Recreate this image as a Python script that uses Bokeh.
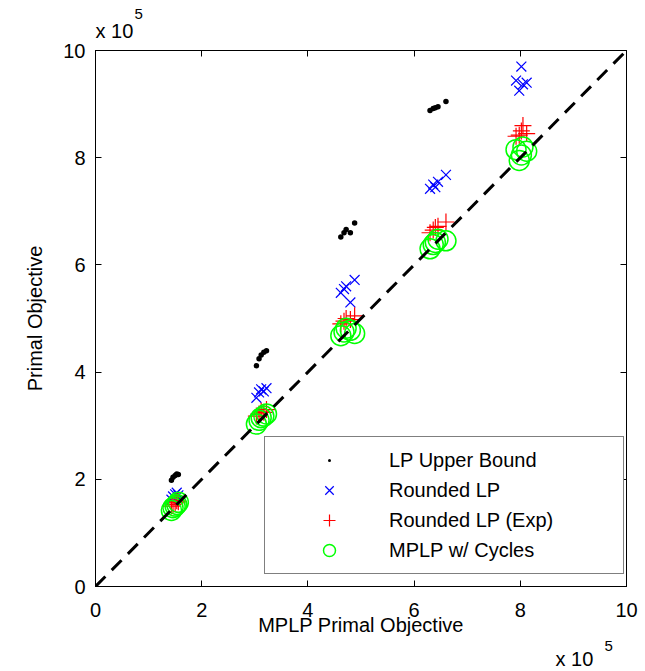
from bokeh.plotting import figure
from bokeh.models import LinearAxis, Legend, LegendItem, Range1d, FixedTicker, Title
from bokeh.embed import file_html
from bokeh.resources import INLINE

# Values in units of 1e5
ticks = [0, 2, 4, 6, 8, 10]

mplp_x = [1.43, 1.46, 1.50, 1.53, 1.56,
          3.03, 3.08, 3.12, 3.17, 3.22,
          4.62, 4.68, 4.72, 4.80, 4.88,
          6.30, 6.36, 6.40, 6.45, 6.60,
          7.92, 7.98, 8.02, 8.05, 8.12]

lp_upper_x = mplp_x[:20]
lp_upper = [1.98, 2.04, 2.07, 2.10, 2.09,
            4.12, 4.25, 4.32, 4.37, 4.40,
            6.52, 6.60, 6.66, 6.60, 6.78,
            8.88, 8.92, 8.93, 8.95, 9.05]

rounded_lp = [1.62, 1.68, 1.72, 1.75, 1.70,
              3.52, 3.62, 3.68, 3.64, 3.70,
              5.48, 5.55, 5.60, 5.30, 5.72,
              7.42, 7.50, 7.45, 7.55, 7.68,
              9.44, 9.25, 9.70, 9.37, 9.40]

rounded_lp_exp = [1.50, 1.53, 1.56, 1.60, 1.58,
                  3.18, 3.22, 3.27, 3.25, 3.30,
                  4.90, 4.95, 5.00, 4.98, 5.05,
                  6.60, 6.65, 6.70, 6.72, 6.80,
                  8.40, 8.42, 8.50, 8.60, 8.45]

mplp_cycles = [1.42, 1.47, 1.50, 1.53, 1.57,
               3.03, 3.10, 3.15, 3.18, 3.22,
               4.68, 4.75, 4.82, 4.78, 4.72,
               6.30, 6.38, 6.42, 6.48, 6.45,
               8.15, 7.95, 8.05, 8.20, 8.12]

diag = [0, 10]

FONT = "Liberation Sans"

p = figure(width=645, height=671, x_range=Range1d(0, 10), y_range=Range1d(0, 10),
           output_backend="svg", toolbar_location=None, title=None,
           min_border_left=95, min_border_right=19, min_border_top=50, min_border_bottom=85)
p.grid.visible = False
p.outline_line_color = "black"
p.background_fill_color = "white"
p.border_fill_color = "white"

for ax in [p.xaxis[0], p.yaxis[0]]:
    ax.ticker = FixedTicker(ticks=ticks)
    ax.major_tick_in = 6
    ax.major_tick_out = 0
    ax.minor_tick_line_color = None
    ax.axis_line_color = "black"
    ax.major_tick_line_color = "black"
    ax.major_label_text_font = FONT
    ax.major_label_text_font_size = "20px"
    ax.major_label_text_color = "black"
    ax.axis_label_text_font = FONT
    ax.axis_label_text_font_size = "20px"
    ax.axis_label_text_font_style = "normal"
    ax.axis_label_text_color = "black"

p.xaxis[0].axis_label = "MPLP Primal Objective"
p.yaxis[0].axis_label = "Primal Objective"
p.xaxis[0].major_label_standoff = 16
p.yaxis[0].major_label_standoff = 10
p.xaxis[0].axis_label_standoff = -6
p.yaxis[0].axis_label_standoff = 14

for side in ["above", "right"]:
    ax = LinearAxis(ticker=FixedTicker(ticks=ticks), major_tick_in=6, major_tick_out=0,
                    minor_tick_line_color=None, major_label_text_font_size="0px",
                    major_label_standoff=0, axis_line_color="black",
                    major_label_overrides={t: "" for t in ticks})
    p.add_layout(ax, side)

r1 = p.scatter(lp_upper_x, lp_upper, marker="dot", size=22, color="black")
r2 = p.scatter(mplp_x, rounded_lp, marker="x", size=14, line_color="#0000ff", line_width=1.2)
r3 = p.scatter(mplp_x, rounded_lp_exp, marker="cross", size=17, line_color="#ff0000", line_width=1.2)
r4 = p.scatter(mplp_x, mplp_cycles, marker="circle", size=20, line_color="#00ff00",
               fill_color=None, line_width=1.5)
p.line(diag, diag, line_color="black", line_width=3, line_dash="14 9")

legend = Legend(items=[LegendItem(label="LP Upper Bound", renderers=[r1]),
                       LegendItem(label="Rounded LP", renderers=[r2]),
                       LegendItem(label="Rounded LP (Exp)", renderers=[r3]),
                       LegendItem(label="MPLP w/ Cycles", renderers=[r4])],
                location=(169, 12))
legend.label_text_font = FONT
legend.label_text_font_size = "20px"
legend.label_text_color = "black"
legend.label_height = 30
legend.glyph_height = 30
legend.glyph_width = 112
legend.padding = 8
legend.spacing = 0
legend.margin = 0
legend.label_standoff = 4
legend.label_width = 226
legend.border_line_color = "black"
legend.border_line_width = 1
legend.background_fill_color = "white"
legend.background_fill_alpha = 1
p.add_layout(legend)

def add_title(text, size, offset, standoff, side):
    p.add_layout(Title(text=text, text_font=FONT, text_font_size=size,
                       text_font_style="normal", text_color="black",
                       align="left", offset=offset, standoff=standoff), side)

# top multiplier: "x 10" nearer the frame, "5" stacked above it
add_title("x 10", "20px", 0, 18, "above")
add_title("5", "15px", 39, -20, "above")
# bottom multiplier: "5" nearer the axis, "x 10" below it
add_title("5", "15px", 509, 0, "below")
add_title("x 10", "20px", 460, -10, "below")

open("out.html", "w").write(file_html(p, INLINE))
